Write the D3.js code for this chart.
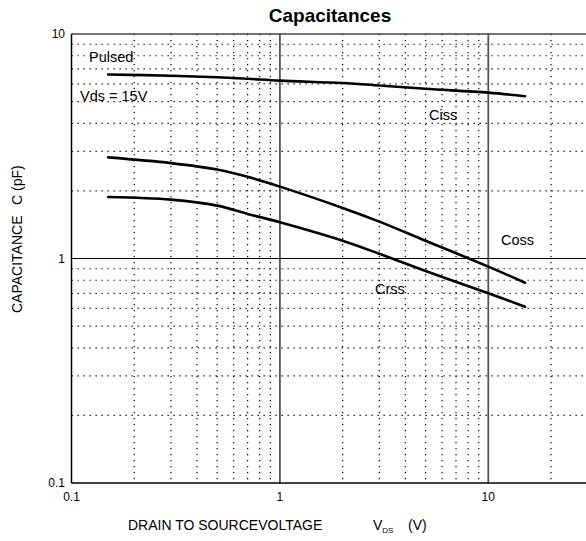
<!DOCTYPE html>
<html>
<head>
<meta charset="utf-8">
<script src="https://cdn.jsdelivr.net/npm/d3@7"></script>
<style>
  body { margin: 0; background: #fff; }
  text { font-family: "Liberation Sans", Arial, sans-serif; fill: #000; }
</style>
</head>
<body>
<div id="chart"></div>
<script>
// values
var vds  = [0.15, 0.3, 0.5, 0.7, 1, 2, 3, 5, 10, 15];
var ciss = [6.6, 6.52, 6.42, 6.32, 6.2, 6.05, 5.9, 5.7, 5.48, 5.28];
var coss = [2.82, 2.66, 2.49, 2.31, 2.09, 1.68, 1.46, 1.2, 0.92, 0.78];
var crss = [1.88, 1.83, 1.72, 1.58, 1.45, 1.2, 1.05, 0.88, 0.70, 0.61];

var xTickLabels = [0.1, 1, 10];
var yTickLabels = [0.1, 1, 10];
var xDomain = [0.1, 30];
var yDomain = [0.1, 10];

var width = 586, height = 541;
var plotLeft = 71.5, plotTop = 34, plotBottom = 483;
var decade = 208.4;

var svg = d3.select("#chart").append("svg")
    .attr("width", width)
    .attr("height", height);

// log scales
var x = d3.scaleLog().domain(xDomain)
    .range([plotLeft, plotLeft + decade * Math.log10(xDomain[1] / xDomain[0])]);
var y = d3.scaleLog().domain(yDomain).range([plotBottom, plotTop]);

var fmt = function(d) { return d < 1 ? "0.1" : String(d); };
var isDecade = function(d) { return Math.abs(Math.log10(d) - Math.round(Math.log10(d))) < 1e-6; };

// minor dotted grid
var xMinor = x.ticks().filter(function(d) { return !isDecade(d) && d < xDomain[1]; });
var yMinor = y.ticks().filter(function(d) { return !isDecade(d); });

svg.append("g").selectAll("line").data(yMinor).enter().append("line")
    .attr("x1", plotLeft).attr("x2", width)
    .attr("y1", function(d) { return y(d); })
    .attr("y2", function(d) { return y(d); })
    .attr("stroke", "#000").attr("stroke-width", 1.2)
    .attr("stroke-dasharray", "1.3,4.7");

svg.append("g").selectAll("line").data(xMinor).enter().append("line")
    .attr("x1", function(d) { return x(d); })
    .attr("x2", function(d) { return x(d); })
    .attr("y1", plotTop).attr("y2", plotBottom)
    .attr("stroke", "#000").attr("stroke-width", 1.2)
    .attr("stroke-dasharray", "1.3,4.7");

// major lines at 1 and 10
svg.append("g").selectAll("line").data([1, 10]).enter().append("line")
    .attr("x1", function(d) { return x(d); })
    .attr("x2", function(d) { return x(d); })
    .attr("y1", plotTop).attr("y2", plotBottom)
    .attr("stroke", "#555").attr("stroke-width", 1.8);

svg.append("line")
    .attr("x1", plotLeft).attr("x2", width)
    .attr("y1", y(1)).attr("y2", y(1))
    .attr("stroke", "#000").attr("stroke-width", 1.2);

// frame
svg.append("line").attr("x1", plotLeft).attr("x2", width)
    .attr("y1", plotTop).attr("y2", plotTop)
    .attr("stroke", "#444").attr("stroke-width", 1.5);
svg.append("line").attr("x1", plotLeft).attr("x2", width)
    .attr("y1", plotBottom).attr("y2", plotBottom)
    .attr("stroke", "#000").attr("stroke-width", 1.5);
svg.append("line").attr("x1", plotLeft).attr("x2", plotLeft)
    .attr("y1", plotTop).attr("y2", plotBottom)
    .attr("stroke", "#000").attr("stroke-width", 1.5);

// tick labels
svg.append("g").selectAll("text").data(yTickLabels).enter().append("text")
    .attr("x", 65)
    .attr("y", function(d) { return y(d) + 4; })
    .attr("text-anchor", "end")
    .style("font-size", "12px")
    .text(fmt);

svg.append("g").selectAll("text").data(xTickLabels).enter().append("text")
    .attr("x", function(d) { return x(d); })
    .attr("y", 501)
    .attr("text-anchor", "middle")
    .style("font-size", "12px")
    .text(fmt);

// curves
var line = d3.line()
    .x(function(d) { return x(d[0]); })
    .y(function(d) { return y(d[1]); })
    .curve(d3.curveCatmullRom.alpha(0.5));

[ciss, coss, crss].forEach(function(s) {
  svg.append("path")
      .datum(d3.zip(vds, s))
      .attr("fill", "none")
      .attr("stroke", "#000")
      .attr("stroke-width", 2.6)
      .attr("stroke-linecap", "round")
      .attr("d", line);
});

// annotations
var notes = [
  {t: "Pulsed", x: 89, y: 62},
  {t: "Vds = 15V", x: 80, y: 101},
  {t: "Ciss", x: 429, y: 120},
  {t: "Coss", x: 501, y: 245},
  {t: "Crss", x: 375, y: 294}
];
svg.append("g").selectAll("text").data(notes).enter().append("text")
    .attr("x", function(d) { return d.x; })
    .attr("y", function(d) { return d.y; })
    .style("font-size", "14.5px")
    .text(function(d) { return d.t; });

// title
svg.append("text")
    .attr("x", 330).attr("y", 22)
    .attr("text-anchor", "middle")
    .style("font-size", "19px")
    .style("font-weight", "bold")
    .text("Capacitances");

// x axis label
var xl = svg.append("text")
    .attr("x", 128).attr("y", 530)
    .style("font-size", "14px");
xl.append("tspan").text("DRAIN TO SOURCEVOLTAGE");
xl.append("tspan").attr("x", 373).text("V");
xl.append("tspan").attr("dy", 3).style("font-size", "8px").text("DS");
xl.append("tspan").attr("x", 408).attr("dy", -3).text("(V)");

// y axis label
svg.append("text")
    .attr("transform", "translate(22,313) rotate(-90)")
    .style("font-size", "14px")
    .text("CAPACITANCE");
svg.append("text")
    .attr("transform", "translate(22,205) rotate(-90)")
    .style("font-size", "14px")
    .text("C (pF)");
</script>
</body>
</html>
